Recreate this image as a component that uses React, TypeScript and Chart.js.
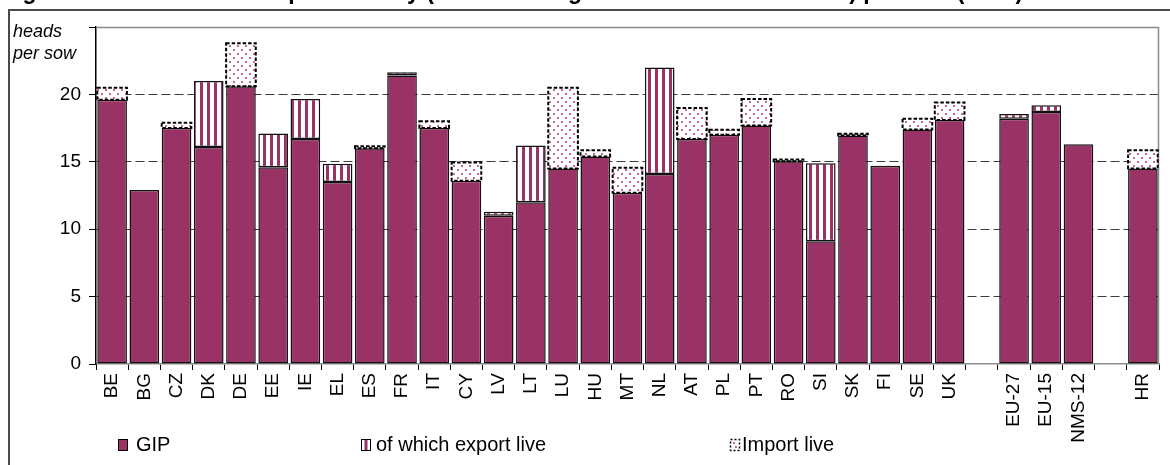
import React, { useEffect, useRef } from 'react';
import { Chart, registerables } from 'chart.js';

Chart.register(...registerables);

// Countries and aggregates; empty strings leave a blank slot between groups.
const categories = [
  'BE', 'BG', 'CZ', 'DK', 'DE', 'EE', 'IE', 'EL', 'ES', 'FR', 'IT', 'CY', 'LV', 'LT',
  'LU', 'HU', 'MT', 'NL', 'AT', 'PL', 'PT', 'RO', 'SI', 'SK', 'FI', 'SE', 'UK',
  '', 'EU-27', 'EU-15', 'NMS-12', '', 'HR',
];

// Solid part of the bar: GIP net of live exports (heads per sow).
const gipValues = [
  19.6, 12.9, 17.5, 16.1, 20.6, 14.6, 16.7, 13.5, 16.0, 21.4, 17.5, 13.6, 11.0, 12.0,
  14.5, 15.4, 12.7, 14.1, 16.7, 17.0, 17.7, 15.05, 9.1, 16.95, 14.7, 17.4, 18.1,
  null, 18.2, 18.7, 16.3, null, 14.5,
];

// Striped part: live exports contained in GIP.
const exportLiveValues = [
  null, null, null, 4.9, null, 2.5, 2.95, 1.35, null, 0.25, null, null, 0.3, 4.2,
  null, null, null, 7.9, null, null, null, null, 5.8, null, null, null, null,
  null, 0.35, 0.5, null, null, null,
];

// Dotted part: live imports.
const importLiveValues = [
  0.9, null, 0.4, null, 3.2, null, null, null, 0.15, null, 0.5, 1.35, null, null,
  6.0, 0.45, 1.85, null, 2.3, 0.37, 1.95, 0.12, null, 0.13, null, 0.8, 1.3,
  null, null, null, null, null, 1.35,
];

const yAxisMax = 25;
const yAxisStep = 5;

const seriesNames = ['GIP', 'of which export live', 'Import live'];
const unitLines = ['heads', 'per sow'];
const titleText =
  'Figure 9: Indicator of sow productivity (GIP including net trade in live animals) per sow (2010)';

const PLUM = '#993366';
const DOT_PINK = '#cc6699';
const FONT = '"Liberation Sans", Arial, sans-serif';

function makeStripePattern(): CanvasPattern | string {
  const c = document.createElement('canvas');
  c.width = 7;
  c.height = 7;
  const g = c.getContext('2d');
  if (!g) return PLUM;
  g.fillStyle = '#ffffff';
  g.fillRect(0, 0, 7, 7);
  g.fillStyle = PLUM;
  g.fillRect(4, 0, 3, 7);
  return g.createPattern(c, 'repeat') || PLUM;
}

function makeDotPattern(): CanvasPattern | string {
  const c = document.createElement('canvas');
  c.width = 8;
  c.height = 8;
  const g = c.getContext('2d');
  if (!g) return '#ffffff';
  g.fillStyle = '#ffffff';
  g.fillRect(0, 0, 8, 8);
  g.fillStyle = DOT_PINK;
  g.fillRect(1, 1, 2, 2);
  g.fillRect(5, 5, 2, 2);
  return g.createPattern(c, 'repeat') || '#ffffff';
}

export default function App() {
  const canvasRef = useRef<HTMLCanvasElement | null>(null);

  useEffect(() => {
    const canvas = canvasRef.current;
    if (!canvas) return;
    const stripes = makeStripePattern();
    const dots = makeDotPattern();

    const decorations = {
      id: 'decorations',
      beforeDraw(chart: any) {
        const ctx = chart.ctx as CanvasRenderingContext2D;
        ctx.save();
        ctx.fillStyle = '#ffffff';
        ctx.fillRect(0, 0, chart.width, chart.height);
        // title line (mostly above the visible area)
        ctx.fillStyle = '#000';
        ctx.font = `bold 23px ${FONT}`;
        ctx.textBaseline = 'alphabetic';
        ctx.fillText(titleText, 2, -1);
        // outer frame
        ctx.strokeStyle = '#4a4a4a';
        ctx.lineWidth = 2;
        ctx.beginPath();
        ctx.moveTo(chart.width + 2, 10);
        ctx.lineTo(9, 10);
        ctx.lineTo(9, chart.height + 2);
        ctx.stroke();
        ctx.restore();
      },
      beforeDatasetsDraw(chart: any) {
        const ctx = chart.ctx as CanvasRenderingContext2D;
        const { left, right, top, bottom } = chart.chartArea;
        ctx.save();
        ctx.strokeStyle = '#8c8c8c';
        ctx.lineWidth = 1.5;
        ctx.beginPath();
        ctx.moveTo(left, top + 0.5);
        ctx.lineTo(right - 0.5, top + 0.5);
        ctx.lineTo(right - 0.5, bottom);
        ctx.stroke();
        ctx.restore();
      },
      afterDatasetsDraw(chart: any) {
        const ctx = chart.ctx as CanvasRenderingContext2D;
        const meta = chart.getDatasetMeta(2);
        ctx.save();
        ctx.strokeStyle = '#000';
        ctx.lineWidth = 2;
        ctx.setLineDash([3.5, 2]);
        meta.data.forEach((bar: any, i: number) => {
          if (!importLiveValues[i]) return;
          const { x, y, base, width } = bar.getProps(['x', 'y', 'base', 'width'], true);
          ctx.strokeRect(x - width / 2, y, width, base - y);
        });
        ctx.restore();
      },
      afterDraw(chart: any) {
        const ctx = chart.ctx as CanvasRenderingContext2D;
        ctx.save();
        // unit label
        ctx.fillStyle = '#000';
        ctx.font = `italic 18px ${FONT}`;
        ctx.textBaseline = 'alphabetic';
        ctx.fillText(unitLines[0], 13, 37);
        ctx.fillText(unitLines[1], 13, 59);

        // legend
        const cy = 445;
        const items = [
          { mx: 118, tx: 136 },
          { mx: 361, tx: 376 },
          { mx: 730, tx: 742 },
        ];
        ctx.font = `20px ${FONT}`;
        ctx.textBaseline = 'middle';
        items.forEach((it, i) => {
          const w = 10;
          const h = 12;
          const x0 = it.mx;
          const y0 = cy - h / 2;
          if (i === 0) {
            ctx.fillStyle = PLUM;
            ctx.fillRect(x0, y0, w, h);
            ctx.strokeStyle = '#000';
            ctx.lineWidth = 1;
            ctx.setLineDash([]);
            ctx.strokeRect(x0 + 0.5, y0 + 0.5, w - 1, h - 1);
          } else if (i === 1) {
            ctx.fillStyle = '#fff';
            ctx.fillRect(x0, y0, w, h);
            ctx.fillStyle = PLUM;
            ctx.fillRect(x0 + 3.5, y0, 3, h);
            ctx.strokeStyle = '#000';
            ctx.lineWidth = 1;
            ctx.setLineDash([]);
            ctx.strokeRect(x0 + 0.5, y0 + 0.5, w - 1, h - 1);
          } else {
            ctx.fillStyle = '#fff';
            ctx.fillRect(x0, y0, w, h);
            ctx.fillStyle = DOT_PINK;
            ctx.fillRect(x0 + 3, y0 + 3, 2, 2);
            ctx.fillRect(x0 + 5, y0 + 7, 2, 2);
            ctx.strokeStyle = '#000';
            ctx.lineWidth = 1.5;
            ctx.setLineDash([2, 2]);
            ctx.strokeRect(x0 + 0.5, y0 + 0.5, w - 1, h - 1);
          }
          ctx.setLineDash([]);
          ctx.fillStyle = '#000';
          ctx.fillText(seriesNames[i], it.tx, cy);
        });
        ctx.restore();
      },
    };

    const chart = new Chart(canvas, {
      type: 'bar',
      data: {
        labels: categories,
        datasets: [
          {
            label: seriesNames[0],
            data: gipValues,
            backgroundColor: PLUM,
            borderColor: '#111',
            borderWidth: 1.5,
            borderSkipped: false,
            barPercentage: 0.92,
            categoryPercentage: 1,
          },
          {
            label: seriesNames[1],
            data: exportLiveValues,
            backgroundColor: stripes as any,
            borderColor: '#111',
            borderWidth: 1.5,
            borderSkipped: false,
            barPercentage: 0.92,
            categoryPercentage: 1,
          },
          {
            label: seriesNames[2],
            data: importLiveValues,
            backgroundColor: dots as any,
            borderWidth: 0,
            barPercentage: 0.92,
            categoryPercentage: 1,
          },
        ],
      },
      options: {
        responsive: false,
        animation: false,
        devicePixelRatio: 1,
        layout: { padding: { left: 0, right: 11, top: 27, bottom: 0 } },
        plugins: {
          legend: { display: false },
          title: { display: false },
          tooltip: { enabled: false },
        },
        scales: {
          x: {
            stacked: true,
            afterFit: (scale: any) => {
              scale.height = 101;
            },
            grid: {
              offset: true,
              drawOnChartArea: false,
              drawTicks: true,
              tickLength: 6,
              tickColor: '#000',
              tickWidth: 1,
            },
            border: { display: true, color: '#8c8c8c', width: 1.5 },
            ticks: {
              autoSkip: false,
              maxRotation: 90,
              minRotation: 90,
              padding: 3,
              color: '#000',
              font: { family: FONT, size: 19 },
            },
          },
          y: {
            stacked: true,
            min: 0,
            max: yAxisMax,
            afterFit: (scale: any) => {
              scale.width = 96;
            },
            ticks: {
              stepSize: yAxisStep,
              padding: 8,
              color: '#000',
              font: { family: FONT, size: 19 },
              callback: (v: any) => (Number(v) === yAxisMax ? '' : String(v)),
            },
            grid: {
              color: (c: any) =>
                c.tick && (c.tick.value === 0 || c.tick.value === yAxisMax)
                  ? 'rgba(0,0,0,0)'
                  : '#3c3c3c',
              lineWidth: 1,
              drawTicks: true,
              tickLength: 7,
              tickColor: '#000',
              tickWidth: 1,
            },
            border: { display: true, color: '#000', width: 1.5, dash: [9, 4] },
          },
        },
      },
      plugins: [decorations],
    });

    return () => {
      chart.destroy();
    };
  }, []);

  return (
    <div
      style={{
        position: 'fixed',
        left: 0,
        top: 0,
        width: 1170,
        height: 465,
        background: '#fff',
        overflow: 'hidden',
      }}
    >
      <canvas ref={canvasRef} width={1170} height={465} style={{ display: 'block' }} />
    </div>
  );
}
